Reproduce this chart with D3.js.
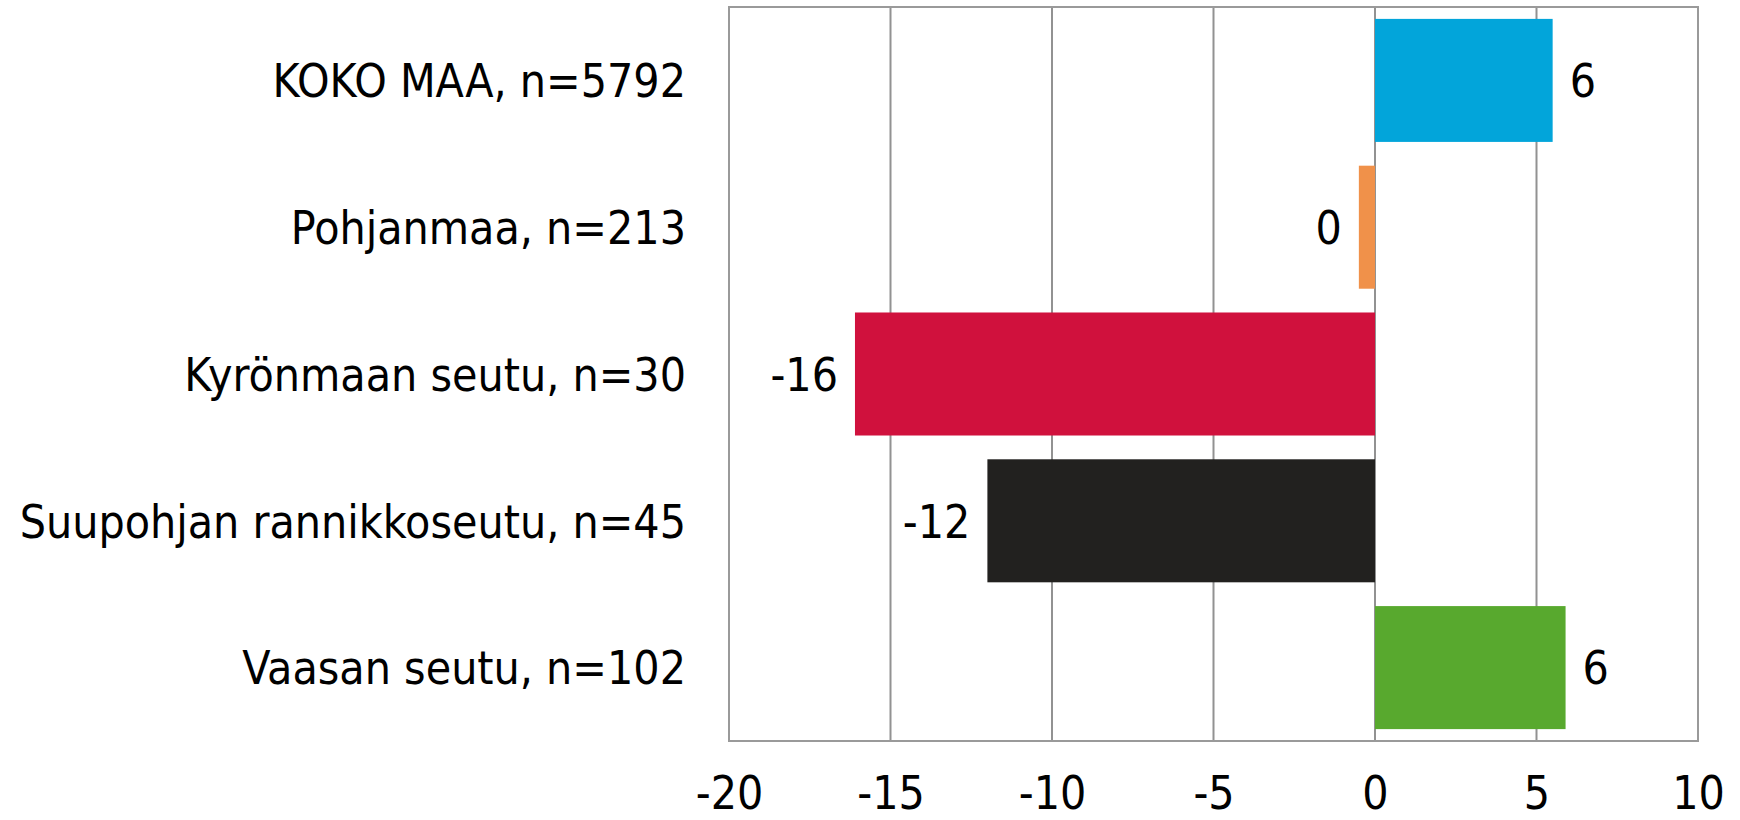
<!DOCTYPE html>
<html>
<head>
<meta charset="utf-8">
<script src="https://cdn.jsdelivr.net/npm/d3@7"></script>
<style>
  html, body { margin: 0; padding: 0; background: #ffffff; }
  svg { display: block; }
</style>
</head>
<body>
<svg id="chart" width="1740" height="820"></svg>
<script>
const categories = ["KOKO MAA, n=5792", "Pohjanmaa, n=213", "Kyrönmaan seutu, n=30", "Suupohjan rannikkoseutu, n=45", "Vaasan seutu, n=102"];
const values = [5.5, -0.5, -16.1, -12.0, 5.9];
const colors = ["#02A5DA", "#F0914A", "#D0113D", "#22211F", "#58A92E"];
const tickValues = [-20, -15, -10, -5, 0, 5, 10];

const W = 1740, H = 820;
const plot = { left: 729, right: 1698, top: 7, bottom: 741 };
const FONT = "'DejaVu Sans Condensed', 'DejaVu Sans', sans-serif";
const FS = 46;

const svg = d3.select("#chart");

const x = d3.scaleLinear().domain([-20, 10]).range([plot.left, plot.right]);
const y = d3.scaleBand().domain(categories).range([plot.top, plot.bottom]).paddingInner(0.162).paddingOuter(0.081);

// gridlines
svg.append("g").selectAll("line").data(tickValues.slice(1, -1)).join("line")
  .attr("x1", d => x(d)).attr("x2", d => x(d))
  .attr("y1", plot.top).attr("y2", plot.bottom)
  .attr("stroke", "#929292").attr("stroke-width", 2);

// frame
svg.append("rect")
  .attr("x", plot.left).attr("y", plot.top)
  .attr("width", plot.right - plot.left).attr("height", plot.bottom - plot.top)
  .attr("fill", "none").attr("stroke", "#9a9a9a").attr("stroke-width", 2);

// bars
svg.append("g").selectAll("rect").data(values).join("rect")
  .attr("x", d => x(Math.min(0, d)))
  .attr("width", d => Math.abs(x(d) - x(0)))
  .attr("y", (d, i) => y(categories[i]))
  .attr("height", y.bandwidth())
  .attr("fill", (d, i) => colors[i]);

// value labels
const capH = FS * 0.73;
svg.append("g").selectAll("text").data(values).join("text")
  .attr("x", d => d >= 0 ? x(d) + 17 : x(d) - 17)
  .attr("y", (d, i) => y(categories[i]) + y.bandwidth() / 2 + capH / 2)
  .attr("text-anchor", d => d >= 0 ? "start" : "end")
  .attr("font-family", FONT).attr("font-size", FS).attr("fill", "#000")
  .text(d => String(Math.round(d)).replace("-0", "0"));

// category labels
svg.append("g").selectAll("text").data(categories).join("text")
  .attr("x", 686)
  .attr("y", d => y(d) + y.bandwidth() / 2 + capH / 2)
  .attr("text-anchor", "end")
  .attr("font-family", FONT).attr("font-size", FS).attr("fill", "#000")
  .text(d => d);

// x axis tick labels
const axis = d3.axisBottom(x).tickValues(tickValues).tickSize(0).tickFormat(d => String(d));
const gx = svg.append("g").attr("transform", `translate(0, ${plot.bottom})`).call(axis);
gx.select(".domain").remove();
gx.selectAll("text")
  .attr("y", 0).attr("dy", 0)
  .attr("transform", "translate(0, 68)")
  .attr("font-family", FONT).attr("font-size", FS).attr("fill", "#000");
</script>
</body>
</html>
